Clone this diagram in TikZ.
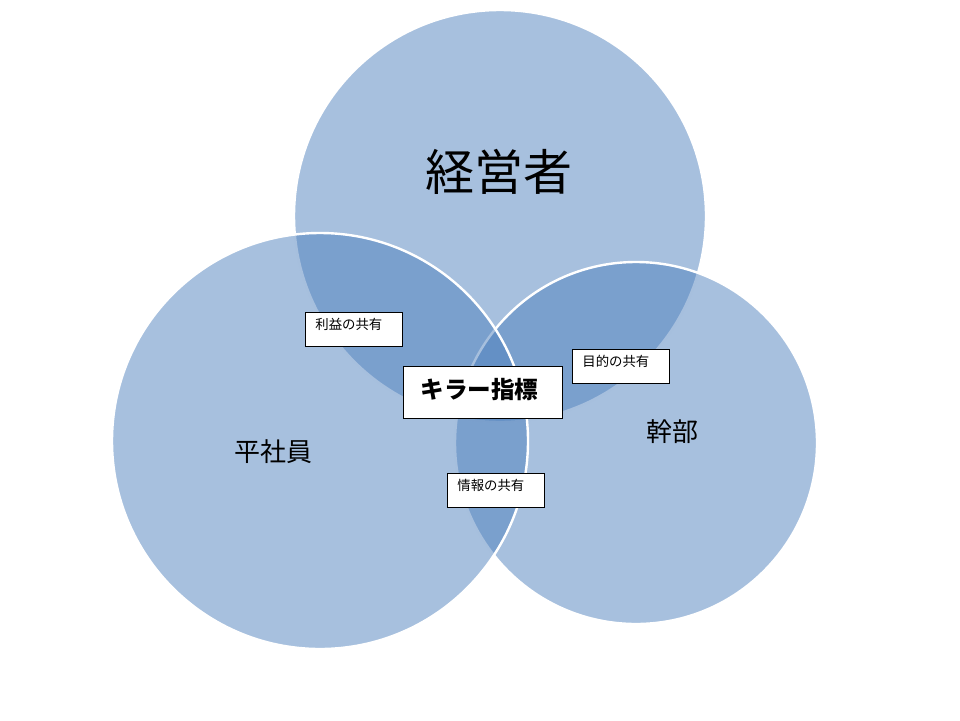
\documentclass[tikz,border=0pt]{standalone}
\usepackage{fontspec}
\setmainfont{Noto Sans CJK JP}
\definecolor{ringF}{HTML}{4F81BD}
\tikzset{
  ring/.style={fill=ringF, fill opacity=0.5, draw=white, line width=2.4pt},
  who/.style={font=\fontsize{26}{30}\selectfont, inner sep=0pt},
  tag/.style={draw=black, fill=white, line width=0.75pt, anchor=north west,
              text width=77pt, align=left, inner xsep=10pt, inner ysep=3pt,
              text height=14pt, text depth=14pt, font=\fontsize{13.4}{15}\selectfont},
  key/.style={draw=black, fill=white, line width=0.9pt, anchor=north west,
              text width=125pt, align=left, inner xsep=17pt, inner ysep=3pt,
              text height=29pt, text depth=17pt, font=\fontsize{23.6}{26}\selectfont\bfseries},
}
\begin{document}
\begin{tikzpicture}[x=1pt, y=-1pt]
\useasboundingbox (0,0) rectangle (960,720);
% three groups
\draw[ring] (500,216) circle[radius=206];
\draw[ring] (636,443) circle[radius=181];
\draw[ring] (320,441) circle[radius=208];
\node[who, font=\fontsize{49}{54}\selectfont] (boss) at (499,172) {経営者};
\node[who] (staff) at (273,452) {平社員};
\node[who] (exec) at (672,432) {幹部};
% shared items
\node[tag] (profit) at (305,312) {利益の共有};
\node[tag] (goal) at (572,349) {目的の共有};
\node[tag] (info) at (447,473) {情報の共有};
\node[key] (kpi) at (403,366) {キラー指標};
\end{tikzpicture}
\end{document}
